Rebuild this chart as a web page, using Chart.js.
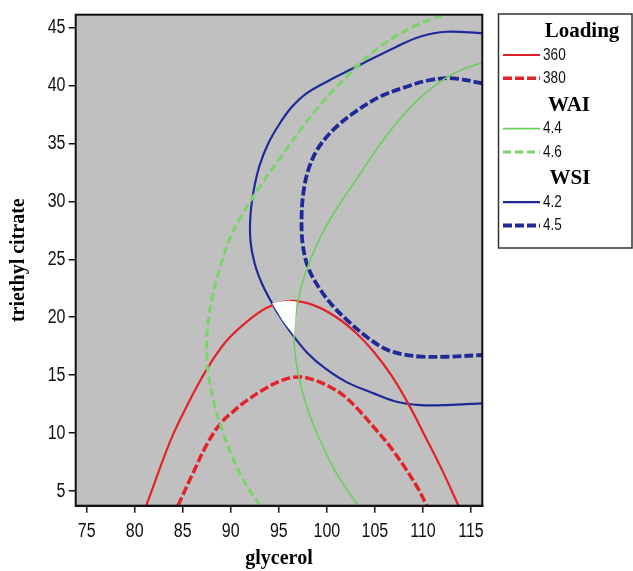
<!DOCTYPE html>
<html>
<head>
<meta charset="utf-8">
<script src="https://cdn.jsdelivr.net/npm/chart.js@4.4.1/dist/chart.umd.min.js"></script>
<style>
  html, body { margin: 0; padding: 0; background: #fff; }
  #wrap { width: 633px; height: 571px; }
</style>
</head>
<body>
<div id="wrap"><canvas id="chart" width="633" height="571"></canvas></div>
<script>
// axis ticks
const xTicks = [75, 80, 85, 90, 95, 100, 105, 110, 115];
const yTicks = [5, 10, 15, 20, 25, 30, 35, 40, 45];

// contour lines (glycerol, triethyl citrate)
const loading360X = [81.2, 83.7, 85.4, 87.5, 89.5, 91.65, 93.7, 96.0, 98.6, 101.0, 103.1, 104.9, 106.7, 108.5, 110.3, 112.0, 113.7];
const loading360Y = [3.73, 9.3, 12.3, 15.5, 17.9, 19.6, 20.8, 21.4, 21.05, 20.0, 18.6, 17.0, 15.0, 12.5, 9.6, 6.8, 3.73];

const loading380X = [84.5, 86.1, 87.5, 88.9, 90.3, 91.65, 93.7, 95.3, 97.0, 98.6, 100.3, 101.8, 103.3, 105.0, 106.7, 108.3, 109.5, 110.4];
const loading380Y = [3.73, 6.6, 9.0, 10.8, 11.9, 12.8, 13.9, 14.55, 14.85, 14.6, 14.0, 13.2, 12.0, 10.4, 8.7, 6.8, 5.2, 3.73];

const wai44X = [103.26, 101.0, 99.28, 97.9, 97.0, 96.6, 96.8, 97.4, 98.3, 99.5, 101.2, 103.3, 105.5, 107.8, 110.2, 113.1, 116.2];
const wai44Y = [3.73, 6.52, 9.4, 12.3, 15.2, 18.0, 20.5, 22.8, 25.0, 27.2, 29.6, 32.2, 34.9, 37.3, 39.3, 41.0, 42.0];

const wai46X = [93.03, 90.95, 88.87, 87.65, 87.5, 87.7, 88.2, 88.95, 90.0, 91.5, 93.2, 95.1, 98.58, 102.05, 105.52, 109.0, 112.2];
const wai46Y = [3.73, 6.52, 10.84, 15.16, 17.6, 19.9, 22.2, 24.5, 27.0, 29.3, 31.5, 33.7, 37.6, 40.77, 43.36, 45.09, 46.12];

const wsi42X = [116.2, 112.46, 109.68, 107.26, 103.78, 100.32, 97.89, 96.3, 95.0, 93.9, 93.0, 92.4, 92.05, 92.05, 92.5, 93.3, 94.3, 95.4, 96.6, 98.0, 99.8, 102.05, 104.8, 107.26, 109.68, 112.46, 116.2];
const wsi42Y = [44.52, 44.65, 44.22, 43.36, 41.93, 40.48, 39.33, 38.1, 36.6, 35.0, 33.1, 31.0, 28.8, 26.6, 24.6, 22.8, 21.2, 19.7, 18.3, 16.9, 15.6, 14.4, 13.45, 12.7, 12.42, 12.42, 12.57];

const wsi45X = [116.2, 113.15, 110.72, 108.3, 105.52, 102.74, 100.66, 99.1, 98.1, 97.55, 97.37, 97.5, 98.1, 99.3, 100.6, 102.05, 104.0, 106.0, 107.9, 109.9, 112.46, 116.2];
const wsi45Y = [40.2, 40.63, 40.48, 39.9, 39.04, 37.61, 36.17, 34.6, 32.8, 30.7, 28.4, 26.2, 24.2, 22.4, 21.0, 19.8, 18.4, 17.3, 16.8, 16.6, 16.59, 16.74];

// small white feasible region where all constraints meet
const regionX = [94.3, 95.2, 96.0, 96.85, 96.75, 96.6, 95.4, 94.3];
const regionY = [21.2, 21.35, 21.42, 21.35, 20.2, 18.4, 19.7, 21.2];

const legendGroups = [
  { title: "Loading", labels: ["360", "380"] },
  { title: "WAI", labels: ["4.4", "4.6"] },
  { title: "WSI", labels: ["4.2", "4.5"] },
];

const RED = "#e3232b";
const GREEN = "#6cce5e";
const GREEN2 = "#7ad46a";
const BLUE = "#1f2a98";

const toPoints = (xs, ys) => xs.map((x, i) => ({ x, y: ys[i] }));

// styles per legend entry, same order as legendGroups
const lineStyles = [
  [{ color: RED, width: 2.2, dash: [] }, { color: RED, width: 3.5, dash: [9, 3] }],
  [{ color: GREEN, width: 1.6, dash: [] }, { color: GREEN2, width: 3, dash: [8, 4] }],
  [{ color: BLUE, width: 2.2, dash: [] }, { color: BLUE, width: 3.8, dash: [9, 3] }],
];

function lineSet(label, xs, ys, st) {
  return {
    label,
    data: toPoints(xs, ys),
    showLine: true,
    borderColor: st.color,
    borderWidth: st.width,
    borderDash: st.dash,
    pointRadius: 0,
    tension: 0.35,
    fill: false,
    clip: 0,
  };
}

const datasets = [
  {
    label: "region",
    data: toPoints(regionX, regionY),
    showLine: true,
    borderWidth: 0,
    borderColor: "#fff",
    backgroundColor: "#fff",
    pointRadius: 0,
    fill: "shape",
    clip: 0,
  },
  lineSet("WAI 4.4", wai44X, wai44Y, lineStyles[1][0]),
  lineSet("WAI 4.6", wai46X, wai46Y, lineStyles[1][1]),
  lineSet("Loading 360", loading360X, loading360Y, lineStyles[0][0]),
  lineSet("Loading 380", loading380X, loading380Y, lineStyles[0][1]),
  lineSet("WSI 4.2", wsi42X, wsi42Y, lineStyles[2][0]),
  lineSet("WSI 4.5", wsi45X, wsi45Y, lineStyles[2][1]),
];

const SANS = '"Liberation Sans", Arial, sans-serif';
const SERIF = '"Liberation Serif", "DejaVu Serif", serif';

// narrow look of the original labels: squeeze a regular sans horizontally
function narrowText(ctx, text, x, y, align, size) {
  ctx.save();
  ctx.translate(x, y);
  ctx.scale(0.8, 1);
  ctx.font = size + "px " + SANS;
  ctx.fillStyle = "#111";
  ctx.textAlign = align;
  ctx.textBaseline = "middle";
  ctx.fillText(text, 0, 0);
  ctx.restore();
}

// gray plot background + box around it
const plotFrame = {
  id: "plotFrame",
  beforeDatasetsDraw(chart) {
    const { ctx, chartArea: a } = chart;
    ctx.save();
    ctx.fillStyle = "#c0c0c0";
    ctx.fillRect(a.left, a.top, a.right - a.left, a.bottom - a.top);
    ctx.restore();
  },
  afterDatasetsDraw(chart) {
    const { ctx, chartArea: a } = chart;
    ctx.save();
    ctx.strokeStyle = "#111";
    ctx.lineWidth = 2;
    ctx.strokeRect(a.left, a.top, a.right - a.left, a.bottom - a.top);
    ctx.restore();
  },
};

// tick labels, placed through the scales
const tickLabels = {
  id: "tickLabels",
  afterDraw(chart) {
    const { ctx, scales } = chart;
    scales.x.ticks.forEach((t) => {
      narrowText(ctx, String(t.value), scales.x.getPixelForValue(t.value), 531, "center", 20);
    });
    scales.y.ticks.forEach((t) => {
      narrowText(ctx, String(t.value), 65.5, scales.y.getPixelForValue(t.value), "right", 20);
    });
  },
};

// grouped legend box on the right
const groupLegend = {
  id: "groupLegend",
  afterDraw(chart) {
    const { ctx } = chart;
    const box = { left: 498.5, top: 14, right: 632, bottom: 248 };
    const titleX = [582, 569, 570];
    ctx.save();
    ctx.strokeStyle = "#333";
    ctx.lineWidth = 1.5;
    ctx.strokeRect(box.left, box.top, box.right - box.left, box.bottom - box.top);
    let y = 31.5;
    legendGroups.forEach((g, gi) => {
      ctx.font = "bold 21px " + SERIF;
      ctx.fillStyle = "#000";
      ctx.textAlign = "center";
      ctx.textBaseline = "middle";
      ctx.fillText(g.title, titleX[gi], y);
      y += 23.5;
      g.labels.forEach((lab, li) => {
        const st = lineStyles[gi][li];
        ctx.beginPath();
        ctx.strokeStyle = st.color;
        ctx.lineWidth = st.width;
        ctx.setLineDash(st.dash);
        ctx.moveTo(503, y);
        ctx.lineTo(540, y);
        ctx.stroke();
        ctx.setLineDash([]);
        narrowText(ctx, lab, 543, y, "left", 17);
        y += 23.3;
      });
      y += 3.5;
    });
    ctx.restore();
  },
};

new Chart(document.getElementById("chart"), {
  type: "scatter",
  data: { datasets },
  plugins: [plotFrame, tickLabels, groupLegend],
  options: {
    responsive: false,
    animation: false,
    events: [],
    layout: { padding: { top: 14.7, right: 150.7, bottom: 0, left: 0 } },
    plugins: { legend: { display: false }, tooltip: { enabled: false } },
    scales: {
      x: {
        type: "linear",
        min: 73.86,
        max: 116.18,
        afterBuildTicks: (axis) => { axis.ticks = xTicks.map((v) => ({ value: v })); },
        afterFit: (axis) => { axis.height = 65.3; },
        grid: { drawOnChartArea: false, tickLength: 7, color: "#111", lineWidth: 1.5 },
        border: { color: "#111", width: 2 },
        ticks: { display: false },
        title: { display: true, text: "glycerol", color: "#000", font: { family: SERIF, size: 20, weight: "bold" }, padding: { top: 0, bottom: 0 } },
      },
      y: {
        type: "linear",
        min: 3.73,
        max: 46.12,
        afterBuildTicks: (axis) => { axis.ticks = yTicks.map((v) => ({ value: v })); },
        afterFit: (axis) => { axis.width = 75.7; },
        grid: { drawOnChartArea: false, tickLength: 7, color: "#111", lineWidth: 1.5 },
        border: { color: "#111", width: 2 },
        ticks: { display: false },
        title: { display: true, text: "triethyl citrate", color: "#000", font: { family: SERIF, size: 20, weight: "bold" }, padding: { top: 7, bottom: 0 } },
      },
    },
  },
});
</script>
</body>
</html>
